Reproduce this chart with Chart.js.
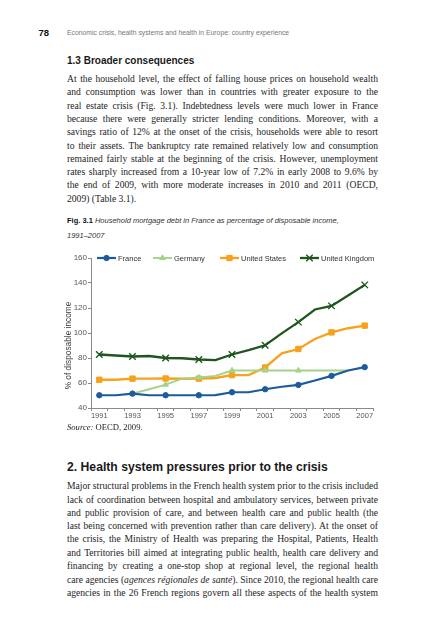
<!DOCTYPE html>
<html><head><meta charset="utf-8">
<script src="https://cdn.jsdelivr.net/npm/chart.js@4"></script>
<style>
html,body{margin:0;padding:0;background:#fff;}
body{width:426px;height:640px;position:relative;overflow:hidden;}
.abs{position:absolute;white-space:nowrap;}
.ln{position:absolute;left:67px;width:311px;font-family:'Liberation Serif','Times New Roman',serif;font-size:9.6px;line-height:13px;height:13px;color:#1e1e1e;white-space:nowrap;}
.sans{font-family:'Liberation Sans',Arial,Helvetica,sans-serif;}
#chartbox{position:absolute;left:40px;top:250px;width:345px;height:175px;}
</style>
</head><body>
<div class="abs sans" style="left:38.5px;top:27.5px;font-size:9.5px;line-height:10px;font-weight:bold;color:#111;">78</div>
<div class="abs sans" style="left:67px;top:28px;font-size:6.8px;line-height:10px;color:#777;">Economic crisis, health systems and health in Europe: country experience</div>

<div class="abs sans" style="left:67px;top:55px;font-size:10px;line-height:12px;font-weight:bold;color:#1a1a1a;">1.3 Broader consequences</div>

<div class="ln j" style="top:72px">At the household level, the effect of falling house prices on household wealth</div>
<div class="ln j" style="top:85.3px">and consumption was lower than in countries with greater exposure to the</div>
<div class="ln j" style="top:98.6px">real estate crisis (Fig. 3.1). Indebtedness levels were much lower in France</div>
<div class="ln j" style="top:111.9px">because there were generally stricter lending conditions. Moreover, with a</div>
<div class="ln j" style="top:125.2px">savings ratio of 12% at the onset of the crisis, households were able to resort</div>
<div class="ln j" style="top:138.5px">to their assets. The bankruptcy rate remained relatively low and consumption</div>
<div class="ln j" style="top:151.8px">remained fairly stable at the beginning of the crisis. However, unemployment</div>
<div class="ln j" style="top:165.1px">rates sharply increased from a 10-year low of 7.2% in early 2008 to 9.6% by</div>
<div class="ln j" style="top:178.4px">the end of 2009, with more moderate increases in 2010 and 2011 (OECD,</div>
<div class="ln" style="top:191.7px">2009) (Table 3.1).</div>

<div class="abs sans" style="left:67px;top:216.4px;font-size:7.5px;line-height:10px;color:#333;"><b style="color:#111">Fig. 3.1</b> <i>Household mortgage debt in France as percentage of disposable income,</i></div>
<div class="abs sans" style="left:67px;top:231px;font-size:7.5px;line-height:10px;color:#333;"><i>1991–2007</i></div>

<div id="chartbox"><canvas id="c"></canvas></div>

<div class="abs" style="left:67px;top:422px;font-family:'Liberation Serif','Times New Roman',serif;font-size:8.6px;line-height:11px;color:#222;"><i>Source:</i> OECD, 2009.</div>

<div class="abs sans" style="left:67px;top:460px;font-size:12.2px;line-height:14px;font-weight:bold;color:#1a1a1a;">2. Health system pressures prior to the crisis</div>

<div class="ln j" style="top:479.2px">Major structural problems in the French health system prior to the crisis included</div>
<div class="ln j" style="top:492.5px">lack of coordination between hospital and ambulatory services, between private</div>
<div class="ln j" style="top:505.8px">and public provision of care, and between health care and public health (the</div>
<div class="ln j" style="top:519.1px">last being concerned with prevention rather than care delivery). At the onset of</div>
<div class="ln j" style="top:532.4px">the crisis, the Ministry of Health was preparing the Hospital, Patients, Health</div>
<div class="ln j" style="top:545.7px">and Territories bill aimed at integrating public health, health care delivery and</div>
<div class="ln j" style="top:559px">financing by creating a one-stop shop at regional level, the regional health</div>
<div class="ln j" style="top:572.5px">care agencies (<i>agences régionales de santé</i>). Since 2010, the regional health care</div>
<div class="ln j" style="top:586px">agencies in the 26 French regions govern all these aspects of the health system</div>

<script>
// fit justified lines
document.querySelectorAll('.ln.j').forEach(function(el){
  var span=document.createElement('span');
  while(el.firstChild){span.appendChild(el.firstChild);}
  el.appendChild(span);
  var w=span.getBoundingClientRect().width;
  var n=(span.textContent.match(/ /g)||[]).length;
  if(n>0){el.style.wordSpacing=((311-w)/n)+'px';}
});

// ---- chart data ----
const years = ['1991','1992','1993','1994','1995','1996','1997','1998','1999','2000','2001','2002','2003','2004','2005','2006','2007'];
const france = [50.2, 50.2, 51.5, 50.2, 50.2, 50.2, 50.2, 50.3, 52.6, 52.6, 55, 57, 58.5, 62, 65.7, 70, 72.7];
const germany = [null, null, 51.5, 55, 58.7, 63.5, 64.4, 65.7, 70, 70, 70, 70, 70, 70, 70, 70, null];
const unitedStates = [62.6, 62.6, 63.5, 63.5, 63.6, 63.4, 63.5, 64, 66.3, 66.3, 72.4, 83.7, 87.2, 95.2, 100.5, 103.8, 105.9];
const unitedKingdom = [82.8, 82, 81.2, 81.6, 80, 79.8, 78.8, 78.3, 82.8, 86.3, 90.2, 99.7, 108.7, 118.8, 121.7, 130, 138.5];
const yTickValues = [40, 60, 80, 100, 120, 140, 160];
const seriesNames = ['France', 'Germany', 'United States', 'United Kingdom'];
const yTitle = '% of disposable income';

const axisFont = {family:"'Liberation Sans Narrow','Liberation Sans',Arial,sans-serif", size:7.5};
const everyOther = c => c.dataIndex % 2 === 0;

const legendPlugin = {
  id:'inlineLegend',
  afterDraw(chart){
    const ctx=chart.ctx, area=chart.chartArea, ys=chart.scales.y;
    // y-axis title
    ctx.save();
    ctx.fillStyle='#3a3a3a';
    ctx.font="8.3px 'Liberation Sans',Arial,sans-serif";
    ctx.translate(area.left-22, ys.getPixelForValue(90));
    ctx.rotate(-Math.PI/2);
    ctx.textAlign='center'; ctx.textBaseline='middle';
    ctx.fillText(yTitle,0,0);
    ctx.restore();
    // legend
    const y=ys.getPixelForValue(160);
    const offs=[6,62,129,209];
    chart.data.datasets.forEach((ds,i)=>{
      const x0=area.left+offs[i], lw=19;
      ctx.save();
      ctx.strokeStyle=ds.borderColor; ctx.lineWidth=ds.borderWidth;
      ctx.beginPath(); ctx.moveTo(x0,y); ctx.lineTo(x0+lw,y); ctx.stroke();
      ctx.fillStyle=ds.pointBackgroundColor; ctx.strokeStyle=ds.pointBorderColor; ctx.lineWidth=ds.pointBorderWidth;
      Chart.helpers.drawPoint(ctx,{pointStyle:ds.pointStyle,radius:ds.legendRadius,borderWidth:ds.pointBorderWidth,rotation:0},x0+lw/2,y);
      ctx.fillStyle='#333';
      ctx.font="7.5px 'Liberation Sans Narrow','Liberation Sans',Arial,sans-serif";
      ctx.textAlign='left'; ctx.textBaseline='middle';
      ctx.fillText(ds.label,x0+lw+2,y+0.5);
      ctx.restore();
    });
  }
};

new Chart(document.getElementById('c'),{
  type:'line',
  data:{
    labels:years,
    datasets:[
      {label:seriesNames[0],data:france,borderColor:'#1d5b9a',backgroundColor:'#1d5b9a',pointBackgroundColor:'#1d5b9a',pointBorderColor:'#1d5b9a',
       borderWidth:2.2,pointStyle:'circle',pointBorderWidth:1,pointRadius:c=>everyOther(c)?2.7:0,legendRadius:2.7,tension:0},
      {label:seriesNames[1],data:germany,borderColor:'#a6d28c',backgroundColor:'#a6d28c',pointBackgroundColor:'#a6d28c',pointBorderColor:'#a6d28c',
       borderWidth:1.9,pointStyle:'triangle',pointBorderWidth:1,pointRadius:c=>(everyOther(c)&&c.dataIndex<=12)?3.2:0,legendRadius:3.2,tension:0},
      {label:seriesNames[2],data:unitedStates,borderColor:'#f6a21c',backgroundColor:'#f6a21c',pointBackgroundColor:'#f6a21c',pointBorderColor:'#f6a21c',
       borderWidth:2.3,pointStyle:'rect',pointBorderWidth:1,pointRadius:c=>everyOther(c)?3.8:0,legendRadius:3.8,tension:0},
      {label:seriesNames[3],data:unitedKingdom,borderColor:'#1e561e',backgroundColor:'#1e561e',pointBackgroundColor:'#1e561e',pointBorderColor:'#1e561e',
       borderWidth:2.3,pointStyle:'crossRot',pointBorderWidth:1.4,pointRadius:c=>everyOther(c)?4.6:0,legendRadius:4.6,tension:0}
    ]
  },
  options:{
    responsive:true,maintainAspectRatio:false,animation:false,events:[],
    layout:{padding:{left:0,top:8,right:12,bottom:0}},
    plugins:{legend:{display:false},tooltip:{enabled:false},title:{display:false}},
    scales:{
      x:{
        type:'category',offset:true,
        grid:{offset:true,drawOnChartArea:false,drawTicks:true,tickLength:3,color:'#8a8a8a',lineWidth:1},
        border:{display:true,color:'#8a8a8a',width:1},
        ticks:{autoSkip:false,maxRotation:0,minRotation:0,padding:0,color:'#555',font:axisFont,
               callback:function(v,i){return i%2===0?years[i]:'';}},
        afterFit:s=>{s.height=17;}
      },
      y:{
        min:40,max:160,
        afterBuildTicks:s=>{s.ticks=yTickValues.map(v=>({value:v}));},
        grid:{drawOnChartArea:false,drawTicks:true,tickLength:3,color:'#8a8a8a',lineWidth:1},
        border:{display:true,color:'#8a8a8a',width:1},
        ticks:{padding:1,color:'#555',font:{family:"'Liberation Sans Narrow','Liberation Sans',Arial,sans-serif",size:8}},
        afterFit:s=>{s.width=51;}
      }
    }
  },
  plugins:[legendPlugin]
});
</script>
</body></html>
